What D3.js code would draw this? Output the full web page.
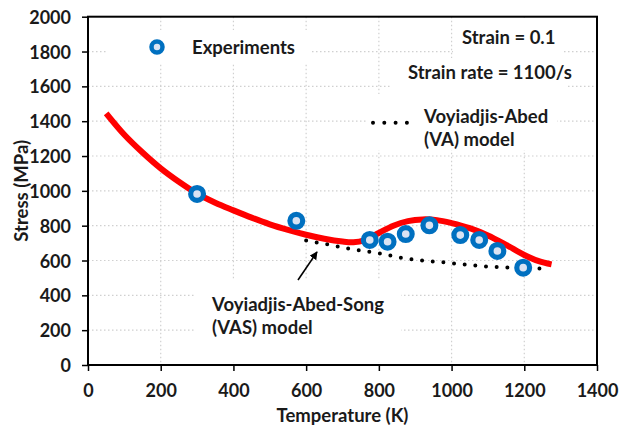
<!DOCTYPE html>
<html><head><meta charset="utf-8">
<script src="https://cdn.jsdelivr.net/npm/d3@7/dist/d3.min.js"></script>
<style>
body{margin:0;background:#fff;}
svg text{font-family:Lato,"Open Sans",sans-serif;font-weight:bold;fill:#1a1a1a;}
</style></head>
<body><svg id="c" width="628" height="431"></svg>
<script>
// ---- data ----
const xTicks = [0,200,400,600,800,1000,1200,1400];
const yTicks = [0,200,400,600,800,1000,1200,1400,1600,1800,2000];
const expT     = [300, 573, 775, 824, 874, 939, 1024, 1076, 1126, 1197];
const expS     = [982, 828, 718, 708, 752, 802,  746,  718,  655,  559];
const vasT = [50, 100, 150, 200, 250, 300, 350, 400, 450, 500, 550, 600, 650, 700, 730, 760, 800, 840, 880, 920, 960, 1000, 1050, 1100, 1150, 1200, 1240, 1275];
const vasS = [1445,1322,1220,1129,1052, 984, 932, 888, 846, 808, 776, 748, 725, 709, 705, 716, 758, 800, 826, 836, 832, 815, 786, 744, 690, 632, 596, 578];
const vaT = [600, 640, 670, 700, 730, 760, 790, 820, 845, 875, 905, 935, 965, 990, 1020, 1050, 1080, 1110, 1140, 1170, 1200, 1230, 1258];
const vaS = [715, 700, 689, 674, 664, 654, 645, 634, 622, 612, 603, 597, 592, 587, 580, 574, 568, 564, 561, 558, 556, 555, 553];

const svg = d3.select("#c");
const L = 88, R = 597, T = 16.7, B = 365;
const FS = 18.5;
const x = d3.scaleLinear().domain([0,1400]).range([L,R]);
const y = d3.scaleLinear().domain([0,2000]).range([B,T]);

// grid
const g = svg.append("g");
g.selectAll(".gx").data(xTicks.slice(1,-1)).join("line")
  .attr("x1",d=>x(d)).attr("x2",d=>x(d)).attr("y1",T).attr("y2",B)
  .attr("stroke","#d0d0d0").attr("stroke-width",1.2).attr("stroke-dasharray","1.5,2.5");
g.selectAll(".gy").data(yTicks.slice(1,-1)).join("line")
  .attr("x1",L).attr("x2",R).attr("y1",d=>y(d)).attr("y2",d=>y(d))
  .attr("stroke","#d0d0d0").attr("stroke-width",1.2).attr("stroke-dasharray","1.5,2.5");

// white text boxes (cover grid)
const boxes = [[107,30,203,34],[453,18,110,40],[390,58,177,36],[367,94,190,56],[195,280,206,82]];
svg.selectAll(".bx").data(boxes).join("rect")
  .attr("x",d=>d[0]).attr("y",d=>d[1]).attr("width",d=>d[2]).attr("height",d=>d[3]).attr("fill","#fff");

// VA dotted line
const vaData = vaT.map((t,i)=>[t,vaS[i]]);
svg.append("path").datum(vaData)
  .attr("d", d3.line().x(d=>x(d[0])).y(d=>y(d[1])).curve(d3.curveMonotoneX))
  .attr("fill","none").attr("stroke","#000").attr("stroke-width",4)
  .attr("stroke-linecap","round").attr("stroke-dasharray","0,10.7");

// VAS red line
const vasData = vasT.map((t,i)=>[t,vasS[i]]);
svg.append("path").datum(vasData)
  .attr("d", d3.line().x(d=>x(d[0])).y(d=>y(d[1])).curve(d3.curveCatmullRom.alpha(0.5)))
  .attr("fill","none").attr("stroke","#ff0000").attr("stroke-width",6);

// experiments
const expData = expT.map((t,i)=>[t,expS[i]]);
svg.selectAll(".ex").data(expData).join("circle")
  .attr("cx",d=>x(d[0])).attr("cy",d=>y(d[1])).attr("r",6.4)
  .attr("fill","#dae3f3").attr("stroke","#0070c0").attr("stroke-width",5.2);

// axes
const ax = svg.append("g").attr("transform",`translate(0,${B})`)
  .call(d3.axisBottom(x).tickValues(xTicks).tickSize(6).tickPadding(10).tickFormat(d3.format("d")));
const ay = svg.append("g").attr("transform",`translate(${L},0)`)
  .call(d3.axisLeft(y).tickValues(yTicks).tickSize(6).tickPadding(10).tickFormat(d3.format("d")));
[ax,ay].forEach(a=>{
  a.select(".domain").remove();
  a.selectAll(".tick line").attr("stroke","#000").attr("stroke-width",1.5);
  a.selectAll("text").attr("font-size",18).attr("fill","#1a1a1a")
   .style("font-family","Lato, sans-serif").style("font-weight","bold");
});
ax.selectAll("text").attr("dy",null).attr("y",31.5);
ay.selectAll("text").attr("dy",null).attr("x",-17).attr("y",6.5);
// frame
svg.append("rect").attr("x",L).attr("y",T).attr("width",R-L).attr("height",B-T)
  .attr("fill","none").attr("stroke","#000").attr("stroke-width",2);

// axis titles
svg.append("text").attr("x",x(700)).attr("y",422).attr("text-anchor","middle")
  .attr("font-size",FS).text("Temperature (K)");
svg.append("text").attr("transform",`translate(28,${(T+B)/2}) rotate(-90)`).attr("text-anchor","middle")
  .attr("font-size",FS).text("Stress (MPa)");

// legend / annotations
svg.append("circle").attr("cx",157).attr("cy",47).attr("r",5.5)
  .attr("fill","#dae3f3").attr("stroke","#0070c0").attr("stroke-width",4.5);
svg.append("text").attr("x",192).attr("y",54).attr("font-size",FS).text("Experiments");
svg.append("text").attr("x",462).attr("y",44).attr("font-size",FS).text("Strain = 0.1");
svg.append("text").attr("x",408).attr("y",79).attr("font-size",FS).text("Strain rate = 1100/s");
svg.append("line").attr("x1",373).attr("x2",408).attr("y1",122.7).attr("y2",122.7)
  .attr("stroke","#000").attr("stroke-width",4).attr("stroke-linecap","round").attr("stroke-dasharray","0,11.3");
svg.append("text").attr("x",424).attr("y",123).attr("font-size",FS).text("Voyiadjis-Abed");
svg.append("text").attr("x",424).attr("y",146).attr("font-size",FS).text("(VA) model");
svg.append("text").attr("x",212).attr("y",311).attr("font-size",FS).text("Voyiadjis-Abed-Song");
svg.append("text").attr("x",212).attr("y",334).attr("font-size",FS).text("(VAS) model");

// arrow
svg.append("defs").append("marker").attr("id","ah").attr("viewBox","0 0 10 10")
  .attr("refX",9).attr("refY",5).attr("markerWidth",5).attr("markerHeight",5).attr("orient","auto")
  .append("path").attr("d","M0,0L10,5L0,10z").attr("fill","#000");
svg.append("line").attr("x1",298).attr("y1",280).attr("x2",317).attr("y2",252)
  .attr("stroke","#000").attr("stroke-width",1.6).attr("marker-end","url(#ah)");
</script></body></html>
